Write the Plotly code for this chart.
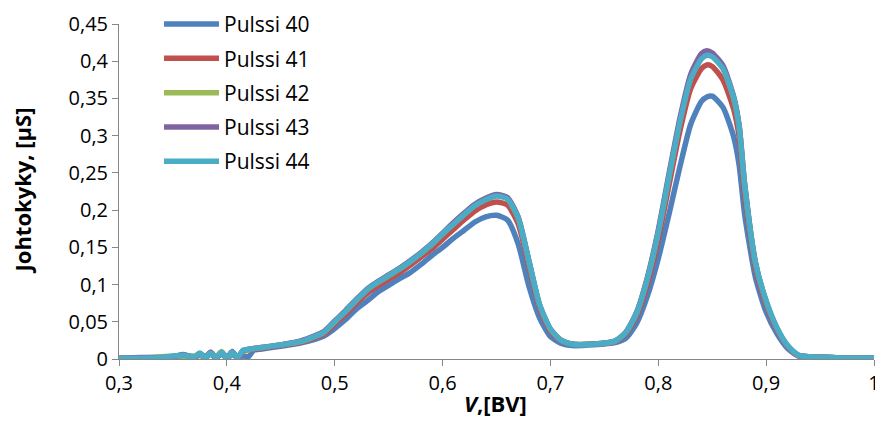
import plotly.graph_objects as go

X = [0.30, 0.32, 0.34, 0.35, 0.36,
     0.37, 0.375, 0.38, 0.385, 0.39,
     0.395, 0.40, 0.405, 0.41, 0.415,
     0.42, 0.425, 0.43, 0.45, 0.47,
     0.49, 0.50, 0.51, 0.52, 0.53,
     0.54, 0.55, 0.56, 0.57, 0.58,
     0.59, 0.60, 0.61, 0.62, 0.63,
     0.64, 0.65, 0.66, 0.67, 0.68,
     0.69, 0.70, 0.71, 0.72, 0.74,
     0.76, 0.77, 0.78, 0.79, 0.80,
     0.81, 0.82, 0.83, 0.84, 0.845,
     0.85, 0.86, 0.87, 0.875, 0.88,
     0.89, 0.90, 0.91, 0.92, 0.93,
     0.94, 0.96, 0.98, 1.00]

pulssi_40 = [0.001, 0.001, 0.002, 0.003, 0.004,
             0.003, 0.005, 0.002, 0.006, 0.002,
             0.007, 0.001, 0.006, 0.002, 0.004,
             0.003, 0.012, 0.013, 0.017, 0.022,
             0.031, 0.041, 0.053, 0.067, 0.078,
             0.090, 0.099, 0.108, 0.116, 0.127,
             0.139, 0.150, 0.162, 0.173, 0.184,
             0.191, 0.193, 0.187, 0.155, 0.098,
             0.055, 0.030, 0.021, 0.018, 0.019,
             0.022, 0.028, 0.048, 0.085, 0.135,
             0.195, 0.258, 0.315, 0.346, 0.352,
             0.353, 0.338, 0.298, 0.260, 0.195,
             0.110, 0.063, 0.034, 0.014, 0.004,
             0.003, 0.002, 0.001, 0.001]

pulssi_41 = [0.001, 0.001, 0.002, 0.003, 0.005,
             0.003, 0.007, 0.002, 0.009, 0.002,
             0.008, 0.002, 0.009, 0.002, 0.011,
             0.012, 0.013, 0.014, 0.018, 0.023,
             0.034, 0.047, 0.060, 0.075, 0.088,
             0.098, 0.107, 0.116, 0.126, 0.137,
             0.148, 0.161, 0.174, 0.187, 0.199,
             0.207, 0.211, 0.207, 0.182, 0.125,
             0.068, 0.037, 0.024, 0.020, 0.020,
             0.023, 0.034, 0.058, 0.101, 0.161,
             0.234, 0.306, 0.363, 0.390, 0.395,
             0.393, 0.375, 0.335, 0.298, 0.222,
             0.123, 0.073, 0.039, 0.017, 0.004,
             0.003, 0.002, 0.001, 0.001]

pulssi_42 = [0.001, 0.001, 0.003, 0.004, 0.004,
             0.004, 0.006, 0.003, 0.007, 0.003,
             0.010, 0.002, 0.008, 0.003, 0.010,
             0.012, 0.014, 0.015, 0.019, 0.024,
             0.036, 0.050, 0.064, 0.079, 0.093,
             0.103, 0.112, 0.121, 0.131, 0.142,
             0.154, 0.168, 0.182, 0.195, 0.207,
             0.215, 0.220, 0.216, 0.190, 0.131,
             0.072, 0.040, 0.025, 0.020, 0.020,
             0.024, 0.036, 0.062, 0.109, 0.171,
             0.246, 0.320, 0.378, 0.406, 0.410,
             0.408, 0.391, 0.350, 0.312, 0.235,
             0.130, 0.077, 0.041, 0.017, 0.005,
             0.003, 0.002, 0.001, 0.001]

pulssi_43 = [0.001, 0.002, 0.002, 0.003, 0.006,
             0.002, 0.007, 0.003, 0.009, 0.001,
             0.008, 0.002, 0.010, 0.001, 0.011,
             0.013, 0.014, 0.015, 0.019, 0.025,
             0.037, 0.051, 0.065, 0.080, 0.094,
             0.104, 0.113, 0.122, 0.132, 0.143,
             0.155, 0.169, 0.183, 0.196, 0.208,
             0.216, 0.221, 0.217, 0.191, 0.132,
             0.072, 0.040, 0.025, 0.020, 0.020,
             0.024, 0.036, 0.063, 0.110, 0.173,
             0.249, 0.323, 0.382, 0.410, 0.414,
             0.411, 0.394, 0.352, 0.313, 0.236,
             0.130, 0.077, 0.041, 0.017, 0.005,
             0.003, 0.002, 0.001, 0.001]

pulssi_44 = [0.001, 0.001, 0.002, 0.004, 0.005,
             0.003, 0.008, 0.002, 0.008, 0.002,
             0.009, 0.001, 0.009, 0.002, 0.012,
             0.013, 0.014, 0.015, 0.019, 0.024,
             0.036, 0.050, 0.064, 0.079, 0.093,
             0.103, 0.112, 0.121, 0.131, 0.142,
             0.154, 0.168, 0.181, 0.194, 0.206,
             0.214, 0.219, 0.215, 0.190, 0.132,
             0.073, 0.040, 0.025, 0.020, 0.020,
             0.024, 0.036, 0.062, 0.108, 0.170,
             0.245, 0.318, 0.376, 0.403, 0.408,
             0.406, 0.390, 0.350, 0.312, 0.235,
             0.130, 0.078, 0.042, 0.018, 0.005,
             0.003, 0.002, 0.001, 0.001]

series_names = ["Pulssi 40", "Pulssi 41", "Pulssi 42", "Pulssi 43", "Pulssi 44"]
series_values = [pulssi_40, pulssi_41, pulssi_42, pulssi_43, pulssi_44]
series_colors = ["#4F81BD", "#C0504D", "#9BBB59", "#8064A2", "#4BACC6"]

FONT = "Open Sans, Carlito, Calibri, sans-serif"
AXIS_GREY = "#868686"

fig = go.Figure()
for name, vals, col in zip(series_names, series_values, series_colors):
    fig.add_trace(go.Scatter(
        x=X, y=vals, name=name, mode="lines", legendgroup=name,
        line=dict(color=col, width=5.5, shape="spline", smoothing=0.6),
    ))

fig.update_layout(
    width=875, height=417,
    margin=dict(l=111, r=9, t=16, b=66, autoexpand=False),
    paper_bgcolor="white", plot_bgcolor="white",
    separators=", ",
    font=dict(family=FONT, size=20, color="black"),
    showlegend=True,
    legend=dict(
        x=0.053, y=1.06, xanchor="left", yanchor="top",
        bgcolor="rgba(0,0,0,0)", font=dict(family=FONT, size=21),
        traceorder="grouped", tracegroupgap=4, itemwidth=55,
    ),
    xaxis=dict(
        range=[0.3, 1.0], dtick=0.1, tick0=0.3,
        showgrid=False, zeroline=False,
        showline=True, linecolor=AXIS_GREY, linewidth=1,
        ticks="outside", ticklen=6, tickcolor=AXIS_GREY,
        tickfont=dict(family=FONT, size=20),
    ),
    yaxis=dict(
        range=[0, 0.45], dtick=0.05,
        showgrid=False, zeroline=False,
        showline=True, linecolor=AXIS_GREY, linewidth=1,
        ticks="outside", ticklen=6, tickcolor=AXIS_GREY,
        tickfont=dict(family=FONT, size=20),
    ),
    annotations=[
        dict(text="<b>Johtokyky, [µS]</b>", xref="paper", yref="paper",
             x=-0.128, y=0.504, textangle=-90, showarrow=False,
             xanchor="center", yanchor="middle",
             font=dict(family=FONT, size=22)),
        dict(text="<b><i>V</i>,[BV]</b>", xref="paper", yref="paper",
             x=0.499, y=-0.131, showarrow=False,
             xanchor="center", yanchor="middle",
             font=dict(family=FONT, size=22)),
    ],
)

fig.write_html("out.html")
